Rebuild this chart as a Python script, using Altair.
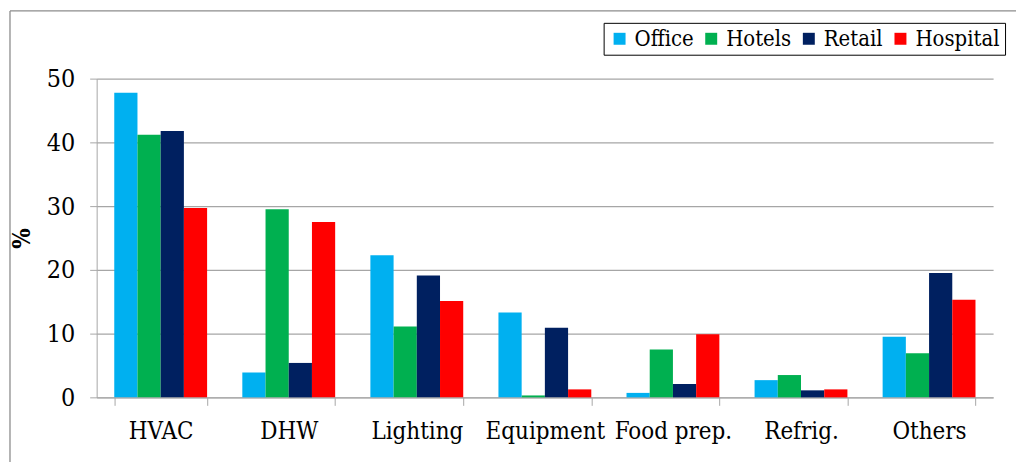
import altair as alt
import pandas as pd

categories = ["HVAC", "DHW", "Lighting", "Equipment", "Food prep.", "Refrig.", "Others"]
series = ["Office", "Hotels", "Retail", "Hospital"]
colors = ["#00B0F0", "#00B050", "#002060", "#FF0000"]

office = [47.8, 3.9, 22.3, 13.3, 0.7, 2.7, 9.5]
hotels = [41.2, 29.5, 11.1, 0.3, 7.5, 3.5, 6.9]
retail = [41.8, 5.4, 19.1, 10.9, 2.1, 1.1, 19.5]
hospital = [29.7, 27.5, 15.1, 1.25, 9.9, 1.25, 15.3]

rows = []
for name, vals in zip(series, [office, hotels, retail, hospital]):
    for c, v in zip(categories, vals):
        rows.append({"category": c, "series": name, "value": v})
df = pd.DataFrame(rows)

FONT = "DejaVu Serif Condensed"
GRID = "#a6a6a6"

bars = alt.Chart(df).mark_bar().encode(
    x=alt.X("category:N", sort=categories, title=None,
            scale=alt.Scale(paddingInner=0.275, paddingOuter=0.1375),
            axis=alt.Axis(labelAngle=0, labelFont=FONT, labelFontSize=24, labelColor="#000000",
                          labelPadding=14, tickBand="extent", tickSize=8, tickColor=GRID,
                          domainColor=GRID, grid=False)),
    xOffset=alt.XOffset("series:N", sort=series, scale=alt.Scale(paddingInner=0)),
    y=alt.Y("value:Q", title="%",
            scale=alt.Scale(domain=[0, 50], nice=False),
            axis=alt.Axis(values=[0, 10, 20, 30, 40, 50], labelFont=FONT, labelFontSize=25,
                          labelColor="#000000", labelPadding=15, tickSize=7, tickColor=GRID,
                          domainColor=GRID, gridColor=GRID, gridWidth=1.3,
                          titleFont=FONT, titleFontSize=24, titleFontWeight="bold",
                          titleColor="#000000", titlePadding=12)),
    color=alt.Color("series:N", sort=series,
                    scale=alt.Scale(domain=series, range=colors),
                    legend=alt.Legend(title=None, orient="none", direction="horizontal",
                                      legendX=509, legendY=-56,
                                      symbolType="square", symbolSize=144,
                                      symbolStrokeWidth=0,
                                      labelFont=FONT, labelFontSize=22, labelColor="#000000",
                                      labelOffset=4, columnPadding=6, padding=5,
                                      strokeColor="#000000", fillColor="#ffffff")),
)

frame_data = alt.Data(values=[{"a": 1}])
left_line = alt.Chart(frame_data).mark_rule(color="#8c8c8c", strokeWidth=1.3).encode(
    x=alt.value(-87), y=alt.value(-68), y2=alt.value(400))
top_line = alt.Chart(frame_data).mark_rule(color="#8c8c8c", strokeWidth=1.3).encode(
    x=alt.value(-87), x2=alt.value(940), y=alt.value(-68))

chart = alt.layer(bars, left_line, top_line).properties(
    width=900, height=320,
    autosize=alt.AutoSizeParams(type="none"),
    padding={"left": 89, "top": 70, "right": 23, "bottom": 64},
    background="#ffffff",
).configure_view(stroke=None)

chart.save("out.html", embed_options={"renderer": "svg", "actions": False})
